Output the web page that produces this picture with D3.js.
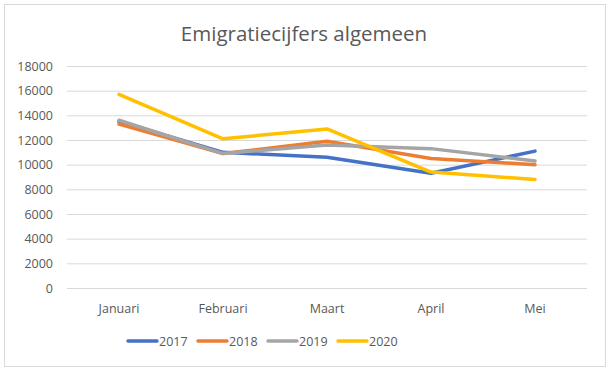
<!DOCTYPE html>
<html><head><meta charset="utf-8">
<script src="https://cdn.jsdelivr.net/npm/d3@7"></script>
<style>
body{margin:0;background:#fff;}
text{font-family:"Open Sans","Noto Sans",sans-serif;fill:#595959;}
</style></head>
<body>
<svg id="c" width="613" height="373"></svg>
<script>
const categories = ["Januari","Februari","Maart","April","Mei"];
const seriesNames = ["2017","2018","2019","2020"];
const values2017 = [13500, 11000, 10600, 9300, 11100];
const values2018 = [13300, 10900, 11900, 10500, 10000];
const values2019 = [13600, 10900, 11600, 11300, 10300];
const values2020 = [15700, 12100, 12900, 9400, 8800];
const colors = ["#4472C4","#ED7D31","#A5A5A5","#FFC000"];
const yTicks = [0,2000,4000,6000,8000,10000,12000,14000,16000,18000];
const title = "Emigratiecijfers algemeen";

const allValues = [values2017, values2018, values2019, values2020];
const svg = d3.select("#c");

svg.append("rect").attr("x",4.5).attr("y",4.5).attr("width",601).attr("height",362)
  .attr("fill","#fff").attr("stroke","#d9d9d9").attr("stroke-width",1);

const x = d3.scaleBand().domain(categories).range([67,587]);
const y = d3.scaleLinear().domain([0,18000]).range([288,66]);

svg.append("text").attr("x",304).attr("y",41).attr("text-anchor","middle")
  .style("font-size","20.5px").text(title);

const yAxis = svg.append("g").attr("transform","translate(67,0)")
  .call(d3.axisLeft(y).tickValues(yTicks).tickSize(-520).tickFormat(d3.format("d")));
yAxis.select(".domain").remove();
yAxis.selectAll(".tick line").attr("stroke","#d9d9d9");
yAxis.selectAll(".tick text").attr("x",-14).style("font-size","12.5px").attr("fill","#595959");

const xAxis = svg.append("g").attr("transform","translate(0,288)")
  .call(d3.axisBottom(x).tickSize(0));
xAxis.select(".domain").remove();
xAxis.selectAll(".tick text").attr("dy","0").attr("y",25).style("font-size","12.5px").attr("fill","#595959");

const line = d3.line().x((d,i)=>x(categories[i])+x.bandwidth()/2).y(d=>y(d));
allValues.forEach((vals,i)=>{
  svg.append("path").datum(vals).attr("d",line).attr("fill","none")
    .attr("stroke",colors[i]).attr("stroke-width",3.5).attr("stroke-linejoin","round").attr("stroke-linecap","round");
});

const lg = svg.append("g").attr("transform","translate(128,341)");
seriesNames.forEach((n,i)=>{
  const g = lg.append("g").attr("transform",`translate(${i*70},0)`);
  g.append("line").attr("x1",0).attr("x2",29).attr("y1",0).attr("y2",0)
    .attr("stroke",colors[i]).attr("stroke-width",3.5).attr("stroke-linecap","round");
  g.append("text").attr("x",31).attr("y",4.5).style("font-size","12.5px").text(n);
});
</script>
</body></html>
